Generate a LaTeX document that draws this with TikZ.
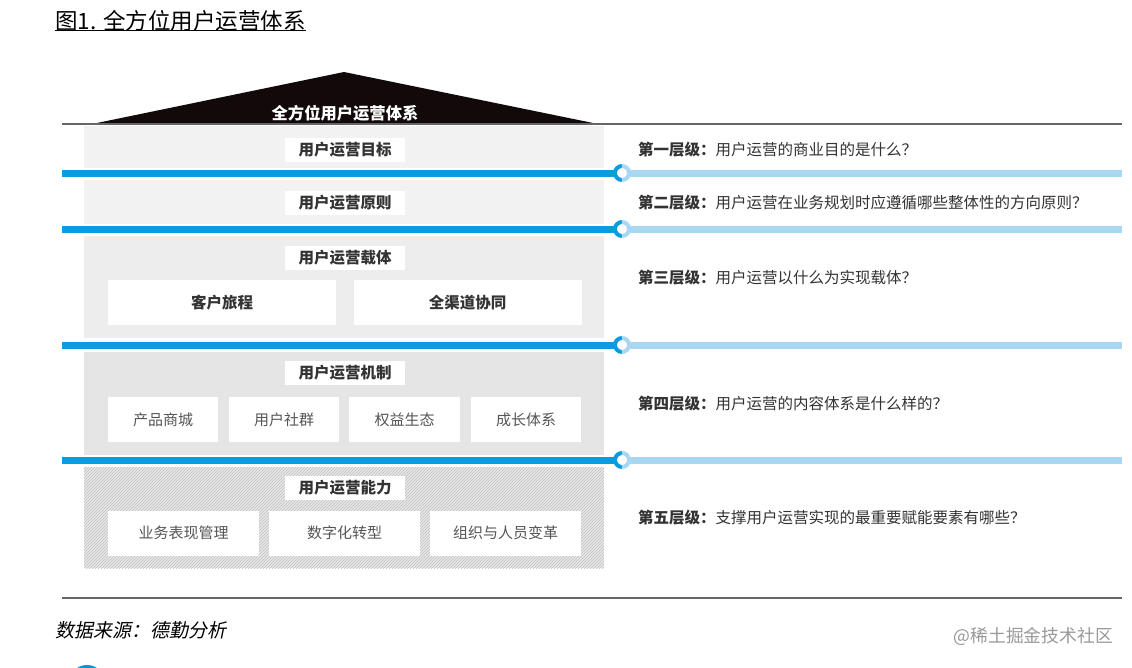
\documentclass[tikz,border=0pt]{standalone}
\usepackage{fontspec}
\usetikzlibrary{patterns}
\setmainfont{Noto Sans CJK SC}
\newfontfamily\cjk{Noto Sans CJK SC}
\newfontfamily\cjkit[FakeSlant=0.2]{Noto Sans CJK SC}
\definecolor{bdark}{HTML}{0E9BDD}
\definecolor{blight}{HTML}{A9D7F2}
\definecolor{txt}{HTML}{333333}
\definecolor{boxtxt}{HTML}{555555}
\definecolor{roof}{HTML}{120A0A}
\tikzset{
  band/.style={draw=none},
  lbl/.style={fill=white, text=txt, font=\cjk\bfseries\fontsize{15.5}{16}\selectfont, minimum width=120pt, minimum height=24pt, inner sep=0pt},
  sub/.style={fill=white, text=boxtxt, font=\cjk\fontsize{15}{16}\selectfont, minimum height=45pt, inner sep=0pt},
  subb/.style={sub, text=txt, font=\cjk\bfseries\fontsize{15.5}{16}\selectfont},
  q/.style={anchor=west, text=txt, font=\cjk\fontsize{15.5}{17}\selectfont, inner sep=0pt},
  darkline/.style={bdark, line width=7pt},
  lightline/.style={blight, line width=7pt},
  sep/.style={draw=gray!80!black, line width=1.2pt}
}
\newcommand{\layerline}[2]{%
  \coordinate (L#1a) at (62,#2);
  \coordinate (L#1b) at (615,#2);
  \coordinate (L#1c) at (629,#2);
  \coordinate (L#1d) at (1122,#2);
  \coordinate (L#1o) at (622,#2);
  \draw[darkline] (L#1a) -- (L#1b);
  \draw[lightline] (L#1c) -- (L#1d);
  \draw[bdark, line width=4pt] (L#1o) ++(90:7) arc (90:270:7);
  \draw[blight, line width=4pt] (L#1o) ++(-90:7) arc (-90:90:7);
}
\begin{document}
\begin{tikzpicture}[x=1pt,y=-1pt]
\useasboundingbox (0,0) rectangle (1132,667);
\clip (0,0) rectangle (1132,667);
\fill[white] (0,0) rectangle (1132,667);
% title
\node[anchor=west, inner sep=0pt, font=\cjk\fontsize{22.5}{24}\selectfont, text=black] (title) at (55,21) {图1. 全方位用户运营体系};
\draw[black, line width=1pt] (title.south west) ++(0,-1) -- ([yshift=1pt]title.south east);
% bands
\fill[band, fill=black!5] (84,126) rectangle (604,168);
\fill[band, fill=black!5] (84,180) rectangle (604,224);
\fill[band, fill=black!7] (84,236) rectangle (604,338);
\fill[band, fill=black!10] (84,352) rectangle (604,455);
\fill[band, fill=black!9] (84,467) rectangle (604,568);
\fill[pattern=north east lines, pattern color=black!25] (84,467) rectangle (604,568);
% roof and separators
\fill[roof] (92,124) -- (344,72) -- (598,124) -- cycle;
\coordinate (s1a) at (62,124);
\coordinate (s1b) at (1122,124);
\draw[sep] (s1a) -- (s1b);
\node[text=white, font=\cjk\bfseries\fontsize{16.3}{17}\selectfont, inner sep=0pt] (rooftxt) at (345,113) {全方位用户运营体系};
% layer lines
\layerline{1}{173}
\layerline{2}{229}
\layerline{3}{345}
\layerline{4}{460}
% layer labels
\node[lbl] (l1) at (345,150) {用户运营目标};
\node[lbl] (l2) at (345,203) {用户运营原则};
\node[lbl] (l3) at (345,258) {用户运营载体};
\node[lbl] (l4) at (345,373) {用户运营机制};
\node[lbl] (l5) at (345,488) {用户运营能力};
% boxes layer 3
\node[subb, minimum width=228pt] (b31) at (222,302.5) {客户旅程};
\node[subb, minimum width=228pt] (b32) at (467.5,302.5) {全渠道协同};
% boxes layer 4
\node[sub, minimum width=110pt] (b41) at (163,419.5) {产品商城};
\node[sub, minimum width=110pt] (b42) at (284,419.5) {用户社群};
\node[sub, minimum width=111pt] (b43) at (404.5,419.5) {权益生态};
\node[sub, minimum width=110pt] (b44) at (526,419.5) {成长体系};
% boxes layer 5
\node[sub, minimum width=151pt] (b51) at (183.5,533) {业务表现管理};
\node[sub, minimum width=151pt] (b52) at (344.5,533) {数字化转型};
\node[sub, minimum width=151pt] (b53) at (505.5,533) {组织与人员变革};
% questions
\node[q] (q1) at (638,150) {{\bfseries 第一层级：}用户运营的商业目的是什么？};
\node[q] (q2) at (638,203) {{\bfseries 第二层级：}用户运营在业务规划时应遵循哪些整体性的方向原则？};
\node[q] (q3) at (638,278) {{\bfseries 第三层级：}用户运营以什么为实现载体？};
\node[q] (q4) at (638,404) {{\bfseries 第四层级：}用户运营的内容体系是什么样的？};
\node[q] (q5) at (638,518) {{\bfseries 第五层级：}支撑用户运营实现的最重要赋能要素有哪些？};
% bottom separator
\coordinate (s2a) at (62,598);
\coordinate (s2b) at (1122,598);
\draw[sep] (s2a) -- (s2b);
% source and watermark
\node[anchor=west, inner sep=0pt, font=\cjkit\fontsize{19}{21}\selectfont, text=black] (src) at (55,630) {数据来源：德勤分析};
\node[anchor=east, inner sep=0pt, font=\cjk\fontsize{17.8}{19}\selectfont, text=black!40] (wm) at (1113,636) {@稀土掘金技术社区};
% partial circle at bottom edge
\fill[bdark!80!teal] (87,683) circle (18);
\end{tikzpicture}
\end{document}
